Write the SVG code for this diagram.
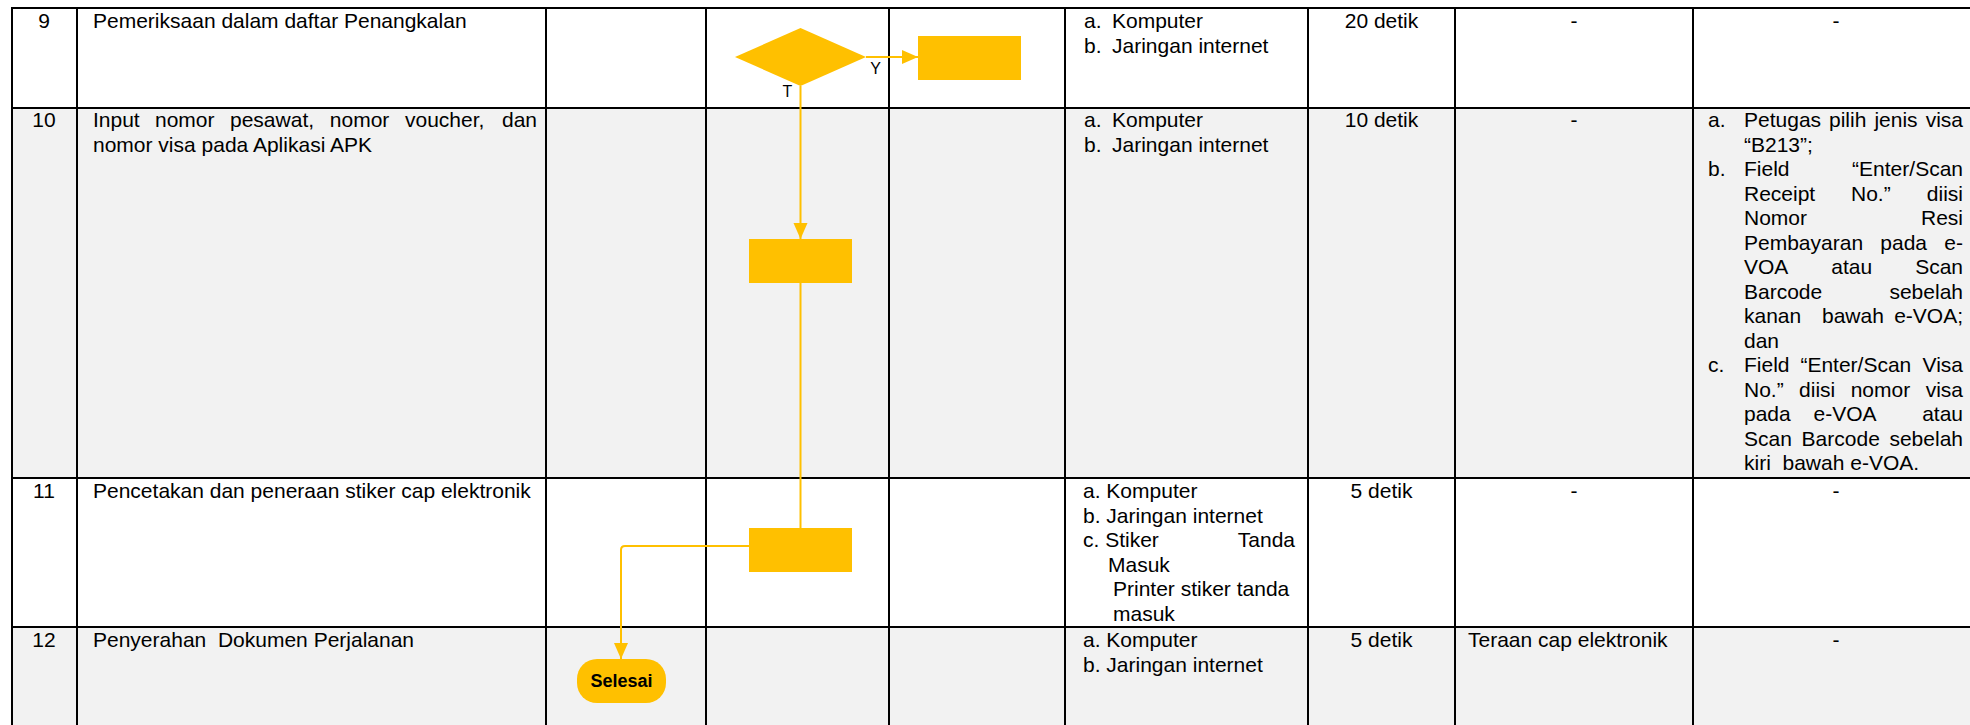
<svg xmlns="http://www.w3.org/2000/svg" width="1970" height="725" viewBox="0 0 1970 725">
<style>
.grid{stroke:#000;stroke-width:2;fill:none}
.t{font-family:"Liberation Sans",Arial,sans-serif;font-size:21px;fill:#000}
.c{text-anchor:middle}
.e{text-anchor:end}
.lbl{font-family:"Liberation Sans",Arial,sans-serif;font-size:16px;font-weight:normal;fill:#000;text-anchor:middle}
.flow{fill:#FFC000}
.conn{stroke:#FFC000;stroke-width:2;fill:none}
.gray{fill:#F2F2F2}
</style>
<defs>
<marker id="arr" viewBox="0 0 16 16" refX="16" refY="8" markerWidth="16" markerHeight="16" markerUnits="userSpaceOnUse" orient="auto">
<path d="M0,1 L16,8 L0,15 z" fill="#FFC000"/>
</marker>
</defs>
<rect width="1970" height="725" fill="#fff"/>
<g id="rows-bg">
<rect class="gray" x="12" y="108" width="1958" height="370"/>
<rect class="gray" x="12" y="627" width="1958" height="98"/>
</g>
<g id="grid" class="grid">
<path d="M12,8 H1970 M12,108 H1970 M12,478 H1970 M12,627 H1970"/>
<path d="M12,7 V725 M77,8 V725 M546,8 V725 M706,8 V725 M889,8 V725 M1065,8 V725 M1308,8 V725 M1455,8 V725 M1693,8 V725"/>
</g>
<g id="row9" class="t">
<text class="c" x="44" y="28">9</text>
<text x="93" y="28">Pemeriksaan dalam daftar Penangkalan</text>
<text x="1084" y="28">a.</text><text x="1112" y="28">Komputer</text>
<text x="1084" y="52.5">b.</text><text x="1112" y="52.5">Jaringan internet</text>
<text class="c" x="1381.5" y="28">20 detik</text>
<text class="c" x="1574" y="28">-</text>
<text class="c" x="1836" y="28">-</text>
</g>
<g id="row10" class="t">
<text class="c" x="44" y="127">10</text>
<text y="127"><tspan x="93">Input</tspan><tspan x="155">nomor</tspan><tspan x="230">pesawat,</tspan><tspan x="329.8">nomor</tspan><tspan x="405">voucher,</tspan></text>
<text class="e" x="537" y="127">dan</text>
<text x="93" y="151.5">nomor visa pada Aplikasi APK</text>
<text x="1084" y="127">a.</text><text x="1112" y="127">Komputer</text>
<text x="1084" y="151.5">b.</text><text x="1112" y="151.5">Jaringan internet</text>
<text class="c" x="1381.5" y="127">10 detik</text>
<text class="c" x="1574" y="127">-</text>
<text x="1708" y="127">a.</text>
<text y="127"><tspan x="1744">Petugas</tspan><tspan x="1829">pilih</tspan><tspan x="1874.4">jenis</tspan></text><text class="e" x="1963" y="127">visa</text>
<text x="1744" y="151.5">“B213”;</text>
<text x="1708" y="176">b.</text>
<text x="1744" y="176">Field</text><text class="e" x="1963" y="176">“Enter/Scan</text>
<text x="1744" y="200.5">Receipt</text><text x="1851" y="200.5">No.”</text><text class="e" x="1963" y="200.5">diisi</text>
<text x="1744" y="225">Nomor</text><text class="e" x="1963" y="225">Resi</text>
<text x="1744" y="249.5">Pembayaran</text><text x="1880.3" y="249.5">pada</text><text class="e" x="1963" y="249.5">e-</text>
<text x="1744" y="274">VOA</text><text x="1831.3" y="274">atau</text><text class="e" x="1963" y="274">Scan</text>
<text x="1744" y="298.5">Barcode</text><text class="e" x="1963" y="298.5">sebelah</text>
<text x="1744" y="323">kanan</text><text x="1822" y="323">bawah</text><text class="e" x="1963" y="323">e-VOA;</text>
<text x="1744" y="347.5">dan</text>
<text x="1708" y="372">c.</text>
<text x="1744" y="372">Field</text><text x="1800.4" y="372">“Enter/Scan</text><text class="e" x="1963" y="372">Visa</text>
<text x="1744" y="396.5">No.”</text><text x="1799.1" y="396.5">diisi</text><text x="1850.7" y="396.5">nomor</text><text class="e" x="1963" y="396.5">visa</text>
<text x="1744" y="421">pada</text><text x="1813.5" y="421">e-VOA</text><text class="e" x="1963" y="421">atau</text>
<text x="1744" y="445.5">Scan</text><text x="1801.6" y="445.5">Barcode</text><text class="e" x="1963" y="445.5">sebelah</text>
<text x="1744" y="470" xml:space="preserve">kiri  bawah e-VOA.</text>
</g>
<g id="row11" class="t">
<text class="c" x="44" y="498">11</text>
<text x="93" y="498">Pencetakan dan peneraan stiker cap elektronik</text>
<text x="1083" y="498">a. Komputer</text>
<text x="1083" y="522.5">b. Jaringan internet</text>
<text x="1083" y="547">c. Stiker</text><text class="e" x="1295" y="547">Tanda</text>
<text x="1108" y="571.5">Masuk</text>
<text x="1113" y="596">Printer stiker tanda</text>
<text x="1113" y="620.5">masuk</text>
<text class="c" x="1381.5" y="498">5 detik</text>
<text class="c" x="1574" y="498">-</text>
<text class="c" x="1836" y="498">-</text>
</g>
<g id="row12" class="t">
<text class="c" x="44" y="647">12</text>
<text x="93" y="647" xml:space="preserve">Penyerahan  Dokumen Perjalanan</text>
<text x="1083" y="647">a. Komputer</text>
<text x="1083" y="671.5">b. Jaringan internet</text>
<text class="c" x="1381.5" y="647">5 detik</text>
<text x="1468" y="647">Teraan cap elektronik</text>
<text class="c" x="1836" y="647">-</text>
</g>
<g id="connectors">
<path class="conn" d="M866,57 H918" marker-end="url(#arr)"/>
<path class="conn" d="M800.5,86 V239" marker-end="url(#arr)"/>
<path class="conn" d="M800.5,283 V528"/>
<path class="conn" d="M749,546 H625 Q621,546 621,550 V659" marker-end="url(#arr)"/>
<text class="lbl" x="875.5" y="74">Y</text>
<text class="lbl" x="787.5" y="97">T</text>
</g>
<g id="decision">
<polygon class="flow" points="800.5,28 866,57 800.5,86 735,57"/>
</g>
<g id="process-y">
<rect class="flow" x="918" y="36" width="103" height="44"/>
</g>
<g id="process-input">
<rect class="flow" x="749" y="239" width="103" height="44"/>
</g>
<g id="process-print">
<rect class="flow" x="749" y="528" width="103" height="44"/>
</g>
<g id="end">
<rect class="flow" x="577" y="659" width="89" height="44" rx="20" ry="20"/>
<text x="621.5" y="687" style="font-family:'Liberation Sans',Arial,sans-serif;font-size:18px;font-weight:bold;text-anchor:middle">Selesai</text>
</g>
</svg>
